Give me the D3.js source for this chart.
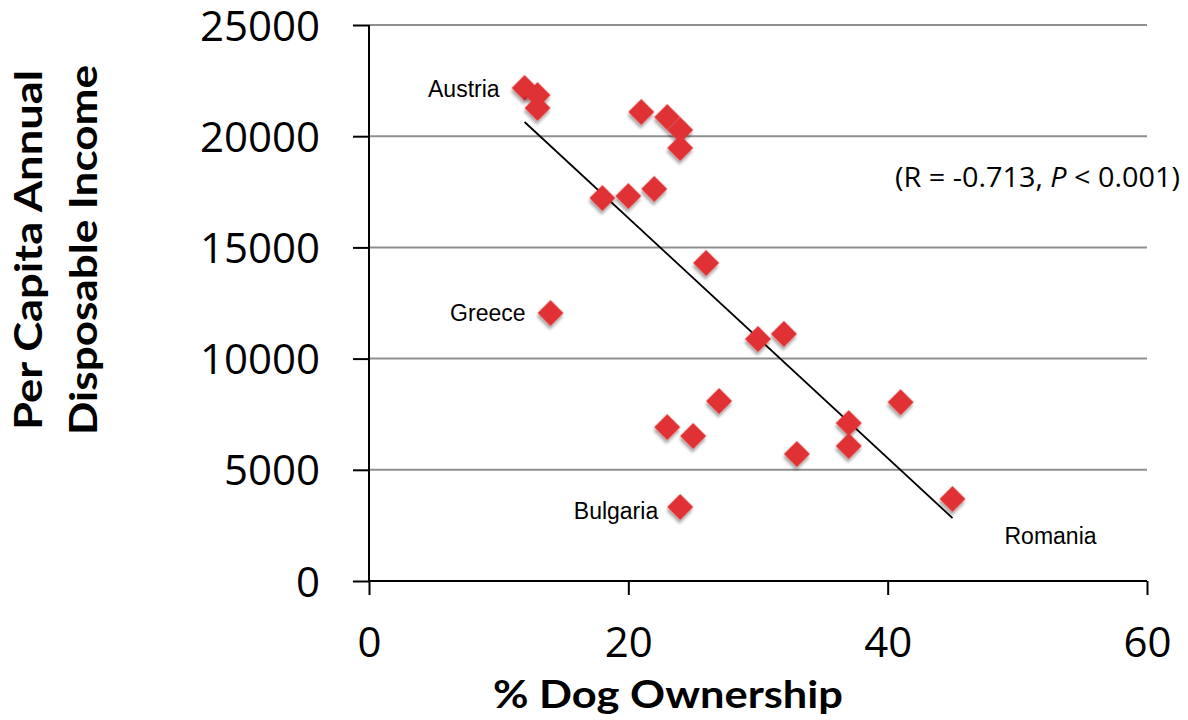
<!DOCTYPE html>
<html>
<head>
<meta charset="utf-8">
<script src="https://cdn.jsdelivr.net/npm/d3@7/dist/d3.min.js"></script>
<style>
  html, body { margin: 0; padding: 0; background: #fff; }
  svg { display: block; }
</style>
</head>
<body>
<svg id="chart" width="1188" height="720"></svg>
<script>
// % of households owning a dog, per country
const dogOwnership = [12, 13, 13, 21, 23, 24, 24, 18, 20, 22, 26, 30, 32, 14,
                      27, 23, 25, 33, 37, 37, 41, 45, 24];
// per capita annual disposable income, per country
const income = [22170, 21850, 21270, 21090, 20860, 20280, 19470, 17220, 17310, 17630, 14300, 10880, 11110, 12050,
                8090, 6920, 6520, 5710, 7100, 6070, 8040, 3690, 3330];

// least-squares fit line end points
const fitX = [12, 45];
const fitY = [20640, 2830];

// named countries
const labelNames = ["Austria", "Greece", "Bulgaria", "Romania"];
const labelPointIndex = [0, 13, 22, 21];

const xTicks = [0, 20, 40, 60];
const yTicks = [0, 5000, 10000, 15000, 20000, 25000];

const svg = d3.select("#chart");
const plotLeft = 369, plotRight = 1147, plotTop = 25, plotBottom = 581;

const x = d3.scaleLinear().domain([0, 60]).range([plotLeft, plotRight]);
const y = d3.scaleLinear().domain([0, 25000]).range([plotBottom, plotTop]);

// drop shadow under the markers
const defs = svg.append("defs");
const f = defs.append("filter").attr("id", "shadow")
  .attr("x", "-50%").attr("y", "-50%").attr("width", "200%").attr("height", "200%");
f.append("feDropShadow").attr("dx", 2).attr("dy", 3).attr("stdDeviation", 1.8)
  .attr("flood-color", "#000").attr("flood-opacity", 0.35);

// horizontal gridlines
svg.append("g").selectAll("line").data(yTicks.filter(d => d > 0)).join("line")
  .attr("x1", plotLeft).attr("x2", plotRight)
  .attr("y1", d => y(d)).attr("y2", d => y(d))
  .attr("stroke", "#8f8f8f").attr("stroke-width", 2);

// y axis
const yAxis = svg.append("g").attr("transform", `translate(${plotLeft},0)`)
  .call(d3.axisLeft(y).tickValues(yTicks).tickSize(16).tickPadding(33).tickFormat(d3.format("d")));
yAxis.select(".domain").attr("d", `M0,${plotTop}V${plotBottom}`).attr("stroke", "#000").attr("stroke-width", 2);
yAxis.selectAll(".tick line").attr("stroke", "#000").attr("stroke-width", 2);
yAxis.selectAll(".tick text")
  .attr("font-family", "'Open Sans', sans-serif").attr("font-size", 42).attr("fill", "#000")
  .attr("dy", "0.36em");

// x axis
const xAxis = svg.append("g").attr("transform", `translate(0,${plotBottom})`)
  .call(d3.axisBottom(x).tickValues(xTicks).tickSize(14).tickPadding(32).tickFormat(d3.format("d")));
xAxis.select(".domain").attr("d", `M${plotLeft},0H${plotRight}`).attr("stroke", "#000").attr("stroke-width", 2);
xAxis.selectAll(".tick line").attr("stroke", "#000").attr("stroke-width", 2);
xAxis.selectAll(".tick text")
  .attr("font-family", "'Open Sans', sans-serif").attr("font-size", 42).attr("fill", "#000");

// regression line
svg.append("line")
  .attr("x1", x(fitX[0])).attr("y1", y(fitY[0]))
  .attr("x2", x(fitX[1])).attr("y2", y(fitY[1]))
  .attr("stroke", "#000").attr("stroke-width", 1.8);

// diamond markers
const diamond = d3.symbol().type(d3.symbolSquare).size(340);
svg.append("g").selectAll("path").data(dogOwnership.map((d, i) => [d, income[i]])).join("path")
  .attr("d", diamond)
  .attr("transform", d => `translate(${x(d[0])},${y(d[1])}) rotate(45)`)
  .attr("fill", "#e03236")
  .attr("filter", "url(#shadow)");

// country labels, offset from their points
const labelOffsets = { Austria: [-25, 9, "end"], Greece: [-25, 8, "end"], Bulgaria: [-22, 12, "end"], Romania: [52, 45, "start"] };
svg.append("g").selectAll("text").data(labelNames).join("text")
  .attr("x", (d, i) => x(dogOwnership[labelPointIndex[i]]) + labelOffsets[d][0])
  .attr("y", (d, i) => y(income[labelPointIndex[i]]) + labelOffsets[d][1])
  .attr("text-anchor", d => labelOffsets[d][2])
  .attr("font-family", "'Liberation Sans', Arial, sans-serif").attr("font-size", 23).attr("fill", "#000")
  .text(d => d);

// correlation note
const note = svg.append("text").attr("x", 895).attr("y", 187)
  .attr("textLength", 285).attr("lengthAdjust", "spacingAndGlyphs")
  .attr("font-family", "'Open Sans', sans-serif").attr("font-size", 27).attr("fill", "#000");
note.append("tspan").text("(R = -0.713, ");
note.append("tspan").attr("font-style", "italic").text("P");
note.append("tspan").text(" < 0.001)");

// axis titles
svg.append("text").attr("x", 668).attr("y", 708).attr("text-anchor", "middle")
  .attr("font-family", "Lato, sans-serif").attr("font-weight", 700).attr("font-size", 38)
  .attr("textLength", 350).attr("lengthAdjust", "spacingAndGlyphs")
  .text("% Dog Ownership");

const yTitle = svg.append("text").attr("transform", "translate(0,250) rotate(-90)")
  .attr("text-anchor", "middle")
  .attr("font-family", "Lato, sans-serif").attr("font-weight", 700).attr("font-size", 38);
yTitle.append("tspan").attr("x", 0).attr("y", 42).attr("textLength", 360).attr("lengthAdjust", "spacingAndGlyphs")
  .text("Per Capita Annual");
yTitle.append("tspan").attr("x", 0).attr("y", 97).attr("textLength", 370).attr("lengthAdjust", "spacingAndGlyphs")
  .text("Disposable Income");
</script>
</body>
</html>
